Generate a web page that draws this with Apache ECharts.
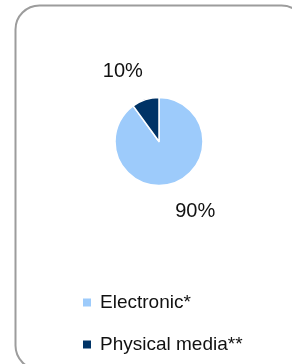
<!DOCTYPE html>
<html>
<head>
<meta charset="utf-8">
<script src="https://cdn.jsdelivr.net/npm/echarts@6/dist/echarts.min.js"></script>
<style>
html, body { margin: 0; padding: 0; background: #fff; }
#pie1 { width: 292px; height: 364px; }
</style>
</head>
<body>
<div id="pie1"></div>
<script>
// 数据
var categories = ['Electronic*', 'Physical media**'];
var shares = [90, 10];
var colors = ['#9DCBFB', '#003366'];

(function(){

var pie1 = echarts.init(document.getElementById("pie1"));

var data = [];
for (var i = 0; i < categories.length; i++) {
    data.push({ name: categories[i], value: shares[i], itemStyle: { color: colors[i] } });
}

// label nudges, index matches data order
var labelDx = [-12, 12];
var labelDy = [-1, 1];

option = {
    animation: false,
    textStyle: { fontFamily: 'Liberation Sans, Arial, sans-serif' },
    graphic: [
        {
            type: 'rect',
            shape: { x: 15.5, y: 5.5, width: 290, height: 364, r: 24 },
            style: { fill: 'none', stroke: '#9c9c9c', lineWidth: 2 },
            silent: true
        }
    ],
    legend: {
        orient: 'vertical',
        left: 81,
        top: 293,
        padding: 0,
        itemWidth: 10,
        itemHeight: 10,
        itemGap: 23,
        icon: 'rect',
        data: categories,
        textStyle: { fontSize: 19, color: '#111', padding: [0, 0, 0, 3] }
    },
    series: [
        {
            type: 'pie',
            center: [159, 141.5],
            radius: 44,
            startAngle: 90,
            clockwise: true,
            avoidLabelOverlap: false,
            itemStyle: { borderColor: '#fff', borderWidth: 1.5 },
            label: {
                show: true,
                position: 'outside',
                formatter: '{d}%',
                fontSize: 20,
                color: '#111'
            },
            labelLine: { show: false, length: 31, length2: 0 },
            labelLayout: function (p) {
                return { dx: labelDx[p.dataIndex], dy: labelDy[p.dataIndex] };
            },
            data: data
        }
    ]
};

pie1.setOption(option);
})();
</script>
</body>
</html>
